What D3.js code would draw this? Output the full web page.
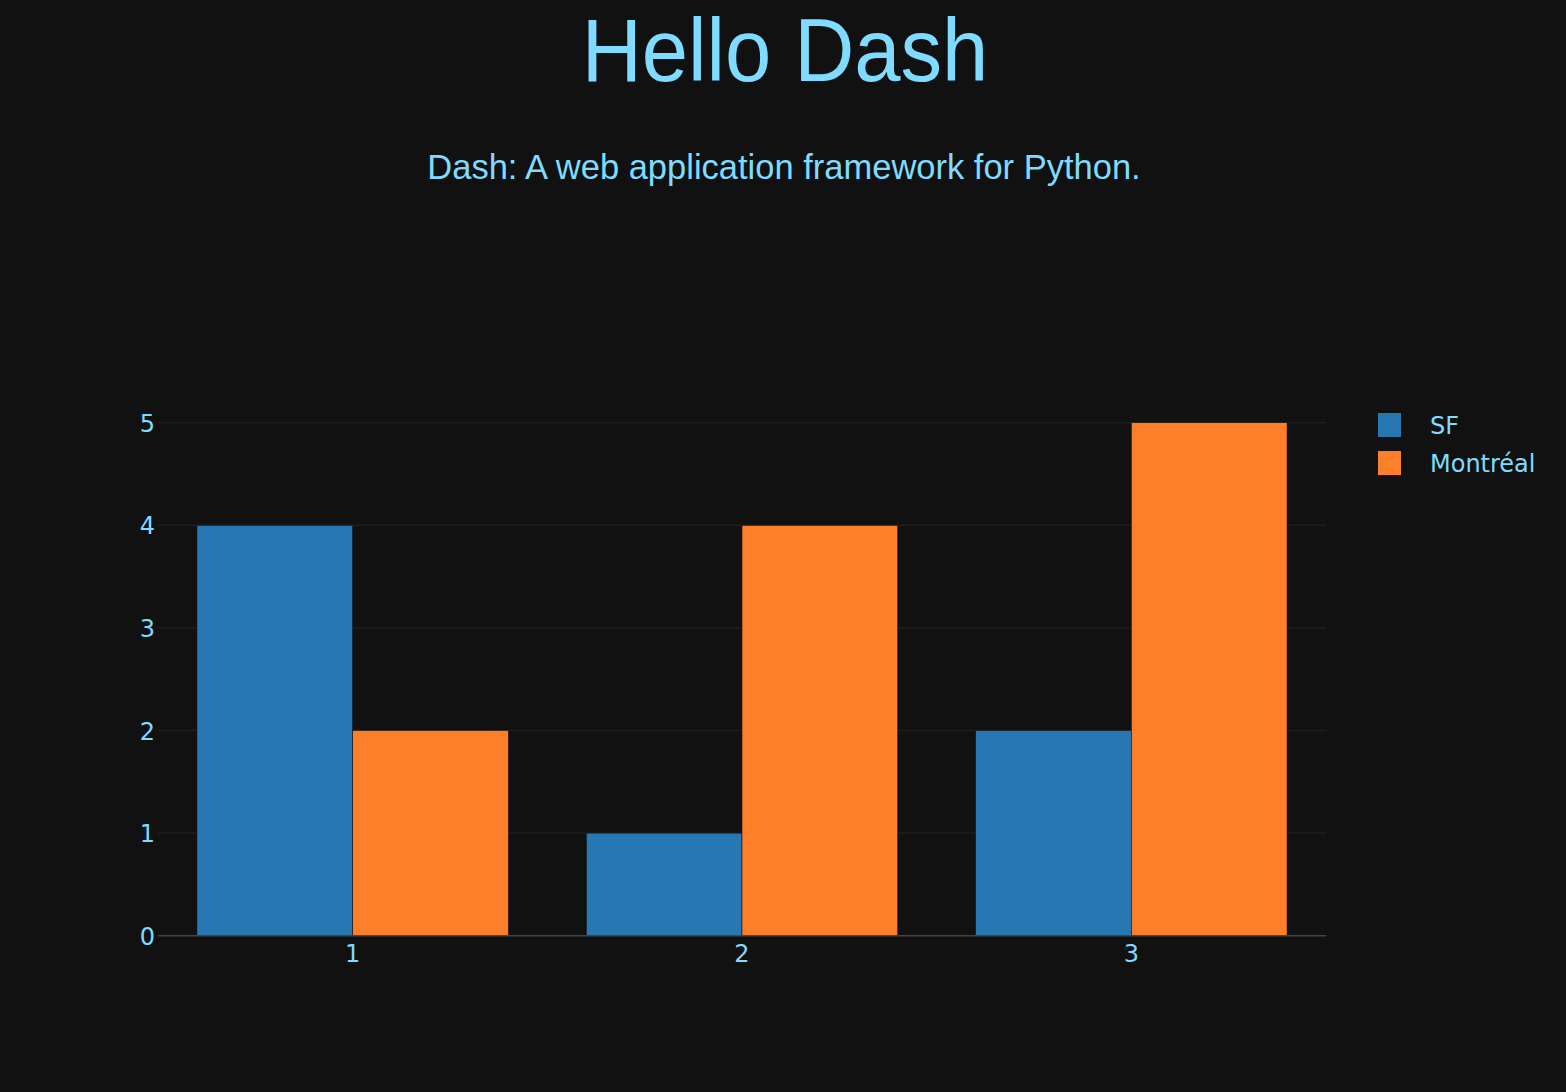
<!DOCTYPE html>
<html>
<head>
<meta charset="utf-8">
<script src="https://cdn.jsdelivr.net/npm/d3@7"></script>
<style>
  html, body { margin: 0; padding: 0; background: #111111; }
  svg { display: block; }
</style>
</head>
<body>
<svg id="chart" width="1566" height="1092"></svg>
<script>
const titleText = "Hello Dash";
const subtitleText = "Dash: A web application framework for Python.";
const categories = ["1", "2", "3"];
const seriesNames = ["SF", "Montréal"];
const sfValues = [4, 1, 2];
const montrealValues = [2, 4, 5];
const yTicks = [0, 1, 2, 3, 4, 5];
const seriesColors = ["rgb(38,119,178)", "rgb(254,127,42)"];

const seriesValues = [sfValues, montrealValues];
const textColor = "#7FDBFF";
const svg = d3.select("#chart");
svg.append("rect").attr("width", 1566).attr("height", 1092).attr("fill", "#111111");

const plot = { left: 158, right: 1326, top: 422.7, bottom: 935.7 };

// Titles
svg.append("text")
  .attr("transform", "translate(785,81) scale(0.945,1)")
  .attr("text-anchor", "middle")
  .attr("font-family", "'Liberation Sans', Arial, Helvetica, sans-serif")
  .attr("font-size", 88).attr("fill", textColor).text(titleText);
svg.append("text").attr("x", 784).attr("y", 179)
  .attr("text-anchor", "middle")
  .attr("font-family", "'Liberation Sans', Arial, Helvetica, sans-serif")
  .attr("font-size", 34.5).attr("fill", textColor).text(subtitleText);

const x = d3.scaleBand().domain(categories).range([plot.left, plot.right])
  .paddingInner(0.2).paddingOuter(0.1);
const xSub = d3.scaleBand().domain(seriesNames).range([0, x.bandwidth()]).padding(0);
const y = d3.scaleLinear().domain([0, 5]).range([plot.bottom, plot.top]);

// Gridlines
svg.append("g").selectAll("line").data(yTicks.filter(d => d !== 0)).join("line")
  .attr("x1", plot.left).attr("x2", plot.right)
  .attr("y1", d => y(d)).attr("y2", d => y(d))
  .attr("stroke", "#1e1e1e").attr("stroke-width", 1.5);

// Bars
const data = [];
categories.forEach((c, i) => {
  seriesNames.forEach((s, j) => data.push({ c, s, v: seriesValues[j][i], color: seriesColors[j] }));
});
svg.append("g").selectAll("rect").data(data).join("rect")
  .attr("x", d => x(d.c) + xSub(d.s))
  .attr("width", xSub.bandwidth())
  .attr("y", d => y(d.v))
  .attr("height", d => y(0) - y(d.v))
  .attr("fill", d => d.color)
  .attr("stroke", "#111111").attr("stroke-width", 0.6);

// Zero line
svg.append("line").attr("x1", plot.left).attr("x2", plot.right)
  .attr("y1", y(0)).attr("y2", y(0))
  .attr("stroke", "#444444").attr("stroke-width", 1.5);

const tickFont = "'DejaVu Sans', Verdana, sans-serif";

// Y axis
const yAxis = d3.axisLeft(y).tickValues(yTicks).tickSize(0).tickPadding(3).tickFormat(d3.format("d"));
const gy = svg.append("g").attr("transform", `translate(${plot.left},0)`).call(yAxis);
gy.select(".domain").remove();
gy.selectAll("text").attr("font-family", tickFont).attr("font-size", 24)
  .attr("fill", textColor).attr("dy", "0.36em");

// X axis
const xAxis = d3.axisBottom(x).tickSize(0).tickPadding(8);
const gx = svg.append("g").attr("transform", `translate(0,${plot.bottom})`).call(xAxis);
gx.select(".domain").remove();
gx.selectAll("text").attr("font-family", tickFont).attr("font-size", 24)
  .attr("fill", textColor).attr("dy", "0.78em");

// Legend
const legend = svg.append("g");
seriesNames.forEach((s, j) => {
  const gyPos = 413 + j * 38;
  legend.append("rect").attr("x", 1378).attr("y", gyPos).attr("width", 23).attr("height", 24)
    .attr("fill", seriesColors[j]);
  legend.append("text").attr("x", 1430).attr("y", gyPos + 21)
    .attr("font-family", tickFont).attr("font-size", 24).attr("fill", textColor).text(s);
});
</script>
</body>
</html>
